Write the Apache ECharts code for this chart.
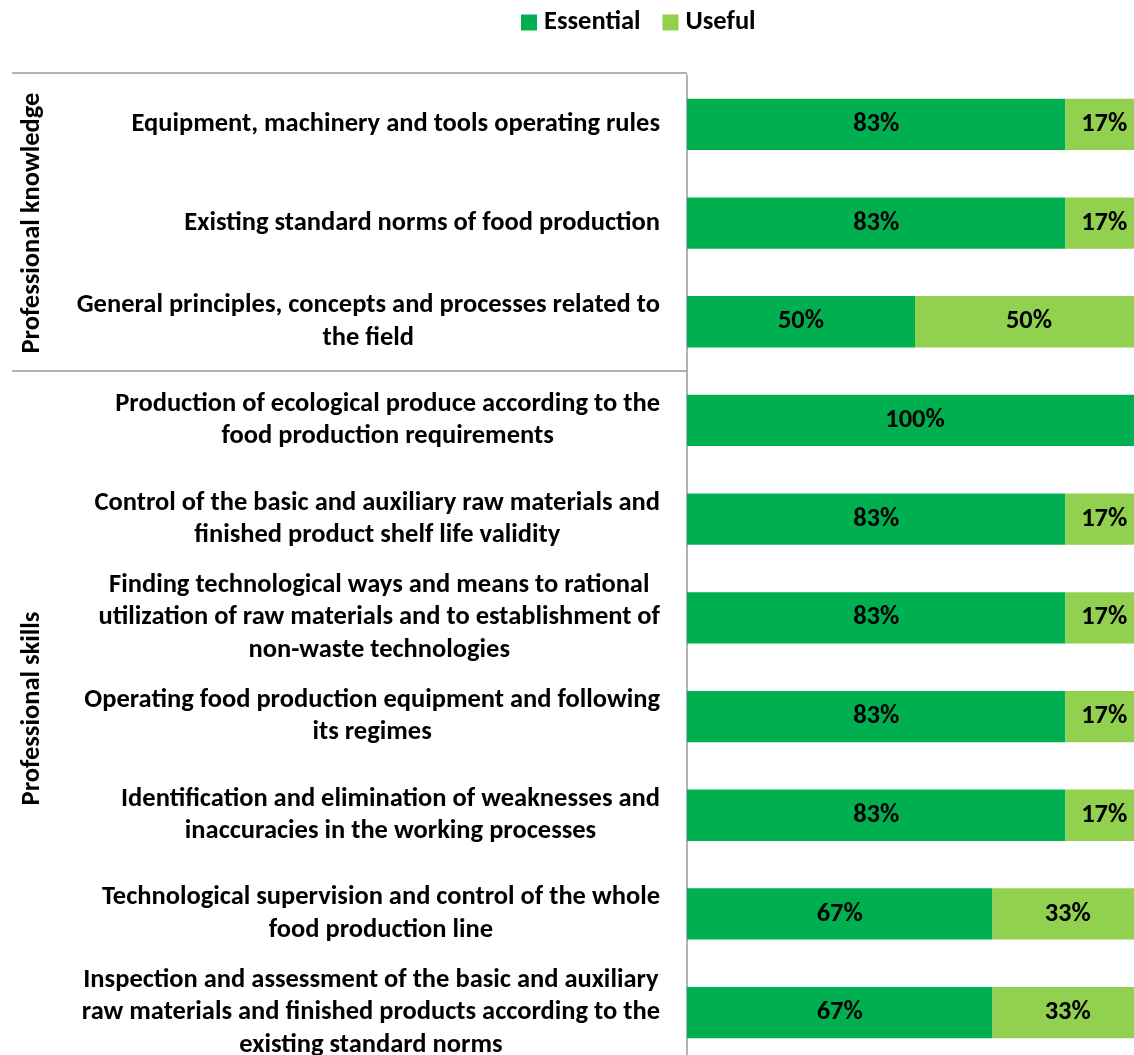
<!DOCTYPE html>
<html><head><meta charset="utf-8">
<script src="https://cdn.jsdelivr.net/npm/echarts@6/dist/echarts.min.js"></script>
<style>html,body{margin:0;padding:0;background:#fff}#c{width:1134px;height:1055px}</style>
</head><body><div id="c"></div>
<script>
const categories = [
  "Equipment, machinery and tools operating rules",
  "Existing standard norms of food production",
  "General principles, concepts and processes related to\nthe field",
  "Production of ecological produce according to the\nfood production requirements",
  "Control of the basic and auxiliary raw materials and\nfinished product shelf life validity",
  "Finding technological ways and means to rational\nutilization of raw materials and to establishment of\nnon-waste technologies",
  "Operating food production equipment and following\nits regimes",
  "Identification and elimination of weaknesses and\ninaccuracies in the working processes",
  "Technological supervision and control of the whole\nfood production line",
  "Inspection and assessment of the basic and auxiliary\nraw materials and finished products according to the\nexisting standard norms"
];
const essential = [83, 83, 50, 100, 83, 83, 83, 83, 67, 67];
const useful = [17, 17, 50, 0, 17, 17, 17, 17, 33, 33];
const groups = [
  {name: "Professional knowledge", from: 0, to: 2},
  {name: "Professional skills", from: 3, to: 9}
];
const FONT = "Carlito, Calibri, Lato, sans-serif";
const FS = 26.5;
const LH = 32.5;
const chart = echarts.init(document.getElementById('c'));
const lbl = {
  show: true, position: 'inside', color: '#000', fontFamily: FONT, fontWeight: 'bold', fontSize: FS,
  formatter: p => p.value > 0 ? p.value + '%' : ''
};
chart.setOption({
  animation: false,
  textStyle: {fontFamily: FONT},
  legend: {
    top: 4, left: 516, itemWidth: 16, itemHeight: 16, itemGap: 22, icon: 'rect',
    textStyle: {fontFamily: FONT, fontWeight: 'bold', fontSize: FS, color: '#000', padding: [0,0,0,2]},
    data: ['Essential', 'Useful']
  },
  grid: {left: 687, width: 456, top: 75, height: 987, containLabel: false, outerBoundsMode: 'none'},
  xAxis: {type: 'value', min: 0, max: 100, show: false},
  yAxis: {
    type: 'category', inverse: true, data: categories,
    axisLine: {show: true, lineStyle: {color: '#999', width: 1.5}},
    axisTick: {show: false},
    axisLabel: {show: false}
  },
  series: [
    {name: 'Essential', type: 'bar', stack: 's', data: essential, barWidth: '52%',
     itemStyle: {color: '#00B050'}, label: lbl},
    {name: 'Useful', type: 'bar', stack: 's', data: useful, barWidth: '52%',
     itemStyle: {color: '#92D050'}, label: lbl}
  ]
});
function decorate() {
  const ax = chart.getModel().getComponent('yAxis', 0).axis;
  const bw = ax.getBandWidth();
  const yOf = i => chart.convertToPixel({yAxisIndex: 0}, i);
  const gx = chart.convertToPixel({xAxisIndex: 0}, 0);
  const ctx = document.createElement('canvas').getContext('2d');
  ctx.font = 'bold ' + FS + 'px ' + FONT;
  const els = [];
  const rightEdge = gx - 27;
  categories.forEach((c, i) => {
    const w = Math.max(...c.split('\n').map(l => ctx.measureText(l).width));
    els.push({type: 'text', x: rightEdge - w / 2, y: yOf(i),
      style: {text: c, fontFamily: FONT, fontWeight: 'bold', fontSize: FS, lineHeight: LH,
        fill: '#000', align: 'center', verticalAlign: 'middle'}});
  });
  groups.forEach((g, gi) => {
    const yTop = yOf(g.from) - bw / 2 - (gi === 0 ? 2 : 0);
    els.push({type: 'line', shape: {x1: 12, y1: yTop, x2: gx, y2: yTop},
      style: {stroke: '#999', lineWidth: 1.5}});
    const yMid = (yOf(g.from) + yOf(g.to)) / 2 - (gi === 1 ? 8 : 0);
    els.push({type: 'text', x: 32, y: yMid, rotation: Math.PI / 2,
      style: {text: g.name, fontFamily: FONT, fontWeight: 'bold', fontSize: FS, fill: '#000',
        align: 'center', verticalAlign: 'middle'}});
  });
  chart.setOption({graphic: els});
}
decorate();
</script></body></html>
